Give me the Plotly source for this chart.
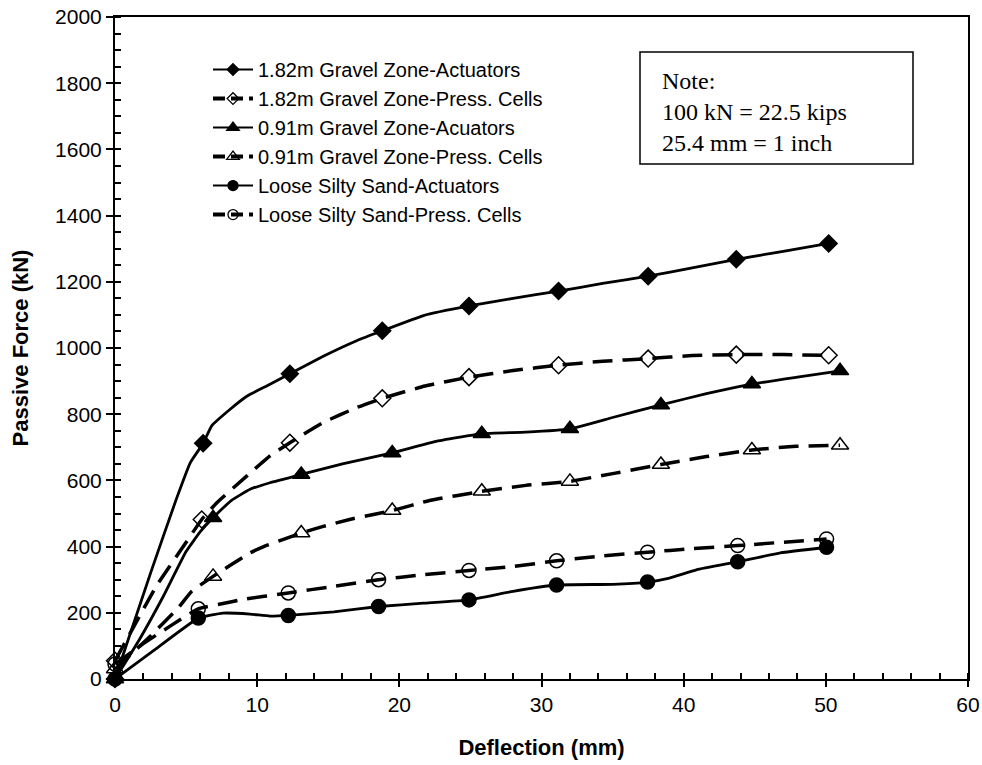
import plotly.graph_objects as go

# ---------------- data ----------------
# 1.82m Gravel Zone - Actuators
g182_act_x = [0, 2.5, 4.3, 5.3, 6.2, 6.8, 8.1, 9.3, 10.7, 12.3, 14.65, 17.0, 18.8, 21.7, 24.9,
              28.0, 31.2, 34.3, 37.5, 40.6, 43.7, 47.0, 50.2]
g182_act_y = [0, 320, 542, 654, 712, 765, 815, 855, 886, 922, 975, 1022, 1052, 1098, 1127,
              1150, 1172, 1195, 1217, 1242, 1268, 1292, 1316]
g182_act_mx = [0, 6.2, 12.3, 18.8, 24.9, 31.2, 37.5, 43.7, 50.2]
g182_act_my = [0, 712, 922, 1052, 1127, 1172, 1217, 1268, 1316]

# 1.82m Gravel Zone - Pressure cells
g182_pc_x = [0, 2.9, 4.8, 6.1, 7.15, 9.26, 10.9, 12.3, 14.65, 17.0, 18.8, 21.8, 24.9, 28.0,
             31.2, 34.3, 37.5, 40.6, 43.7, 47.0, 50.2]
g182_pc_y = [55, 280, 400, 482, 532, 613, 674, 714, 775, 820, 848, 885, 912, 932,
             948, 960, 968, 977, 980, 980, 978]
g182_pc_mx = [0, 6.1, 12.3, 18.8, 24.9, 31.2, 37.5, 43.7, 50.2]
g182_pc_my = [55, 482, 714, 848, 912, 948, 968, 980, 978]

# 0.91m Gravel Zone - Actuators
g091_act_x = [0, 1.7, 3.4, 5.0, 6.0, 6.9, 8.2, 9.5, 10.9, 13.1, 16.0, 19.5, 22.5, 25.8, 28.9,
              32.0, 35.0, 38.4, 41.6, 44.8, 48.0, 51.0]
g091_act_y = [0, 118, 250, 385, 445, 487, 540, 573, 593, 618, 650, 683, 717, 741, 746,
              756, 790, 828, 862, 891, 912, 931]
g091_act_mx = [0, 6.9, 13.1, 19.5, 25.8, 32.0, 38.4, 44.8, 51.0]
g091_act_my = [0, 487, 618, 683, 741, 756, 828, 891, 931]

# 0.91m Gravel Zone - Pressure cells
g091_pc_x = [0, 2.5, 4.45, 5.4, 6.9, 9.5, 10.5, 13.1, 14.65, 16.5, 19.5, 22.2, 25.8, 28.9,
             32.0, 35.2, 38.4, 41.6, 44.8, 47.9, 51.0]
g091_pc_y = [30, 130, 215, 265, 310, 381, 401, 441, 461, 482, 509, 540, 567, 585,
             597, 622, 648, 672, 692, 703, 706]
g091_pc_mx = [0, 6.9, 13.1, 19.5, 25.8, 32.0, 38.4, 44.8, 51.0]
g091_pc_my = [30, 310, 441, 509, 567, 597, 648, 692, 706]

# Loose Silty Sand - Actuators
lss_act_x = [0, 2.9, 5.86, 7.6, 9.5, 10.9, 12.19, 15.4, 18.54, 21.7, 24.9, 28.0, 31.06,
             35.0, 37.46, 39.0, 40.9, 43.8, 46.8, 50.05]
lss_act_y = [0, 92, 184, 199, 196, 190, 192, 203, 219, 229, 239, 265, 284,
             286, 293, 305, 330, 354, 381, 398]
lss_act_mx = [0, 5.86, 12.19, 18.54, 24.9, 31.06, 37.46, 43.8, 50.05]
lss_act_my = [0, 184, 192, 219, 239, 284, 293, 354, 398]

# Loose Silty Sand - Pressure cells
lss_pc_x = [0, 2.1, 5.86, 7.6, 8.8, 12.19, 15.4, 18.54, 21.7, 24.9, 28.0, 31.06, 34.3,
            37.46, 40.6, 43.8, 46.9, 50.05]
lss_pc_y = [45, 110, 212, 228, 239, 260, 280, 300, 315, 328, 340, 357, 372,
            383, 394, 403, 413, 423]
lss_pc_mx = [0, 5.86, 12.19, 18.54, 24.9, 31.06, 37.46, 43.8, 50.05]
lss_pc_my = [45, 212, 260, 300, 328, 357, 383, 403, 423]

series_names = ["1.82m Gravel Zone-Actuators", "1.82m Gravel Zone-Press. Cells",
                "0.91m Gravel Zone-Acuators", "0.91m Gravel Zone-Press. Cells",
                "Loose Silty Sand-Actuators", "Loose Silty Sand-Press. Cells"]

note_lines = ["Note:", "100 kN = 22.5 kips", "25.4 mm = 1 inch"]

# ---------------- styling ----------------
series = [
    (g182_act_x, g182_act_y, g182_act_mx, g182_act_my, "diamond", False, 13, 9),
    (g182_pc_x, g182_pc_y, g182_pc_mx, g182_pc_my, "diamond-open", True, 13, 9),
    (g091_act_x, g091_act_y, g091_act_mx, g091_act_my, "triangle-up", False, 15, 11),
    (g091_pc_x, g091_pc_y, g091_pc_mx, g091_pc_my, "triangle-up-open", True, 15, 11),
    (lss_act_x, lss_act_y, lss_act_mx, lss_act_my, "circle", False, 14, 10),
    (lss_pc_x, lss_pc_y, lss_pc_mx, lss_pc_my, "circle-open", True, 14, 10),
]

fig = go.Figure()
for name, (lx, ly, mx, my, sym, dashed, msz, lsz) in zip(series_names, series):
    fig.add_trace(go.Scatter(
        x=lx, y=ly, mode="lines", showlegend=False, hoverinfo="skip",
        line=dict(color="black", width=3.5 if dashed else 2.8,
                  dash="20px,10px" if dashed else "solid",
                  shape="spline", smoothing=0.35),
        cliponaxis=False))
    fig.add_trace(go.Scatter(
        x=mx, y=my, mode="markers", showlegend=False, name=name,
        marker=dict(symbol=sym, size=msz, color="black",
                    line=dict(color="black", width=1.5)),
        cliponaxis=False))
    # legend entry
    fig.add_trace(go.Scatter(
        x=[None], y=[None], mode="lines+markers", name=name,
        line=dict(color="black", width=4 if dashed else 2,
                  dash="12px,6px" if dashed else "solid"),
        marker=dict(symbol=sym, size=lsz, color="black",
                    line=dict(color="black", width=1.3))))

axis_font = dict(family="Liberation Sans, Arial", size=21, color="black")
title_font = dict(family="Liberation Sans, Arial", size=22, color="black")

fig.update_layout(
    width=982, height=765,
    margin=dict(l=115, r=14, t=17, b=86),
    paper_bgcolor="white", plot_bgcolor="white",
    font=axis_font,
    showlegend=True,
    legend=dict(x=(208 - 115) / 853, y=0.95, xanchor="left", yanchor="top",
                bgcolor="rgba(0,0,0,0)", borderwidth=0,
                font=dict(family="Liberation Sans, Arial", size=20, color="black"),
                tracegroupgap=0, itemwidth=40),
    xaxis=dict(range=[0, 60], tick0=0, dtick=10, ticks="outside", ticklen=6,
               tickwidth=1.5, tickcolor="black", showgrid=False, zeroline=False,
               showline=True, linecolor="black", linewidth=2, mirror=True,
               tickfont=axis_font,
               minor=dict(dtick=2, ticks="inside", ticklen=6, tickwidth=1.5,
                          tickcolor="black", showgrid=False),
               title=dict(text="<b>Deflection (mm)</b>", font=title_font, standoff=24),
               automargin=False),
    yaxis=dict(range=[0, 2000], tick0=0, dtick=200, ticks="outside", ticklen=7,
               tickwidth=1.5, tickcolor="black", showgrid=False, zeroline=False,
               showline=True, linecolor="black", linewidth=2, mirror=True,
               tickfont=axis_font,
               minor=dict(dtick=50, ticks="inside", ticklen=6, tickwidth=1.5,
                          tickcolor="black", showgrid=False),
               title=dict(text="<b>Passive Force (kN)</b>", font=title_font, standoff=20),
               automargin=False),
    xaxis2=dict(overlaying="x", anchor="y", range=[0, 60], tick0=0, dtick=10,
                ticks="inside", ticklen=7, tickwidth=1.5, tickcolor="black",
                showticklabels=False, showgrid=False, zeroline=False, showline=False),
    yaxis2=dict(overlaying="y", anchor="x", side="left", range=[0, 2000], tick0=0,
                dtick=200, ticks="inside", ticklen=7, tickwidth=1.5, tickcolor="black",
                showticklabels=False, showgrid=False, zeroline=False, showline=False),
)

# Note box
fig.add_shape(type="rect", xref="paper", yref="paper",
              x0=(640 - 115) / 853, x1=(913 - 115) / 853,
              y0=1 - (164 - 17) / 662, y1=1 - (52 - 17) / 662,
              line=dict(color="black", width=1.5), fillcolor="rgba(0,0,0,0)")
fig.add_annotation(xref="paper", yref="paper",
                   x=(660 - 115) / 853, y=1 - (112 - 17) / 662,
                   xanchor="left", yanchor="middle", align="left", showarrow=False,
                   text="<br>".join(note_lines),
                   font=dict(family="Liberation Serif, Times New Roman", size=24, color="black"))

fig.write_html("out.html")
